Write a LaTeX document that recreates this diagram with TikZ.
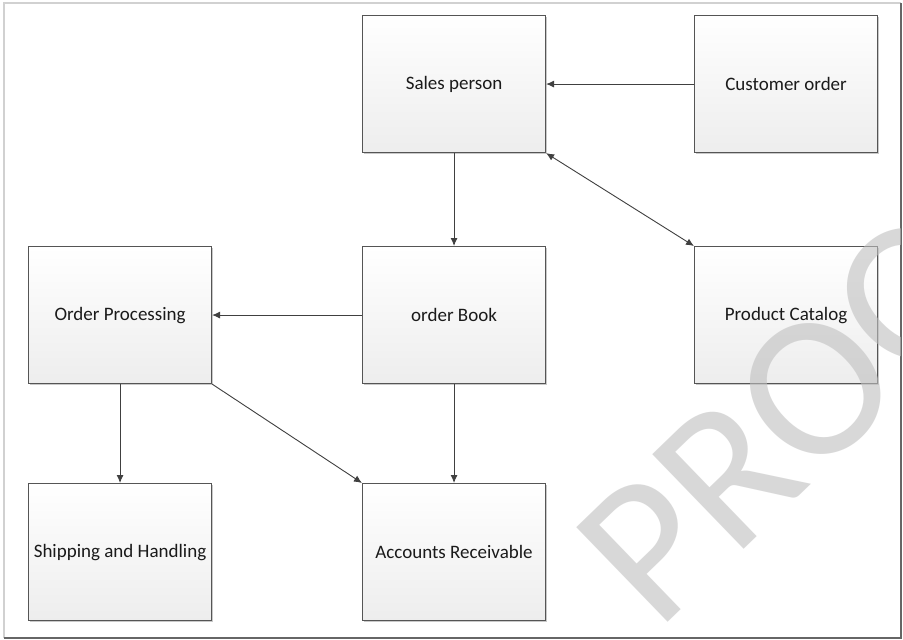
\documentclass[tikz,border=0pt]{standalone}
\usepackage{fontspec}
\setmainfont{Carlito}
\usetikzlibrary{arrows.meta,shadows}
\definecolor{boxline}{HTML}{555555}
\definecolor{linkline}{HTML}{404040}
\definecolor{txt}{HTML}{1A1A1A}
\definecolor{markgray}{HTML}{D9D9D9}
\tikzset{
  block/.style={draw=boxline, line width=1.1pt, top color=white, bottom color=black!7,
    minimum width=183pt, minimum height=137pt, inner sep=0pt, anchor=north west,
    font=\fontsize{19}{22}\selectfont, text=txt,
    drop shadow={shadow xshift=1.2pt, shadow yshift=-1.2pt, fill=black!35, opacity=0.6}},
  link/.style={draw=linkline, line width=0.9pt, -{Latex[length=8pt,width=7pt]}},
  bilink/.style={draw=linkline, line width=0.9pt, {Latex[length=8pt,width=7pt]}-{Latex[length=8pt,width=7pt]}},
}
\begin{document}
\begin{tikzpicture}[x=1pt,y=-1pt]
\useasboundingbox (0,0) rectangle (903,640);
\fill[white] (0,0) rectangle (903,640);

% outer frame
\draw[black!18, line width=1.5pt] (4,638) -- (4,3) -- (901,3);
\draw[black!60, line width=2pt] (901,3) -- (901,638) -- (4,638);

% blocks
\node[block] (sales) at (362,15) {Sales person};
\node[block] (cust) at (694,15) {Customer order};
\node[block] (proc) at (28,246) {Order Processing};
\node[block] (book) at (362,246) {order Book};
\node[block] (cat) at (694,246) {Product Catalog};
\node[block] (ship) at (28,483) {Shipping and Handling};
\node[block] (acc) at (362,483) {Accounts Receivable};

% connectors
\draw[link] (cust.west) -- (sales.east);
\draw[link] (sales.south) -- (book.north);
\draw[bilink] (sales.south east) -- (cat.north west);
\draw[link] (book.west) -- (proc.east);
\draw[link] (proc.south) -- (ship.north);
\draw[link] (proc.south east) -- (acc.north west);
\draw[link] (book.south) -- (acc.north);

% watermark
\begin{scope}
\clip (5,4) rectangle (900,637);
\node[anchor=base west, rotate=44, inner sep=0pt, text=black!25, opacity=0.6,
  font=\fontsize{205}{205}\selectfont] (mark) at (657,633) {PROOF};
\end{scope}
\end{tikzpicture}
\end{document}
